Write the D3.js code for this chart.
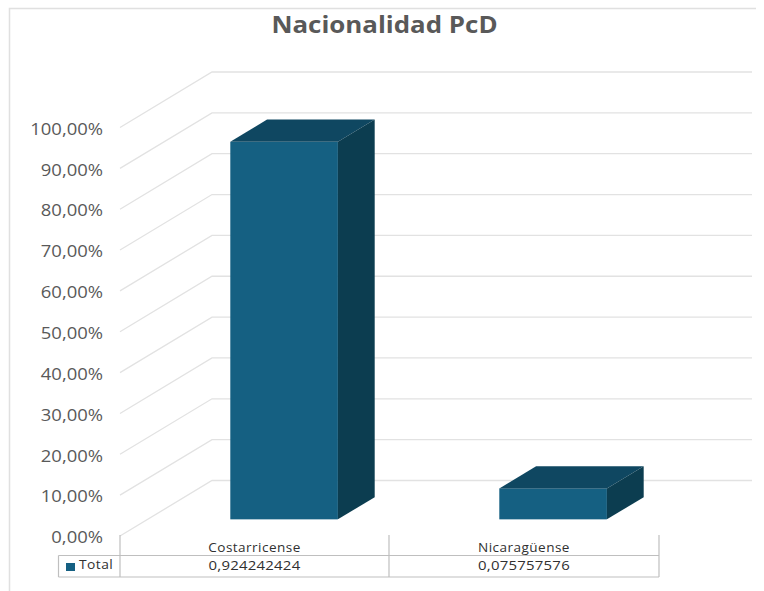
<!DOCTYPE html>
<html><head><meta charset="utf-8">
<script src="https://cdn.jsdelivr.net/npm/d3@7"></script>
<style>html,body{margin:0;padding:0;background:#fff}svg{display:block}text{font-family:"Open Sans",sans-serif}</style>
</head><body><svg id="c" width="764" height="591"></svg>
<script>
const categories = ["Costarricense","Nicaragüense"];
const values = [0.924242424,0.075757576];
const valueLabels = ["0,924242424","0,075757576"];
const tickValues = [0,0.1,0.2,0.3,0.4,0.5,0.6,0.7,0.8,0.9,1];
const seriesName = "Total";
const titleText = "Nacionalidad PcD";

const svg = d3.select("#c");
const x = d3.scaleBand().domain(categories).range([121,659]).paddingInner(0.6).paddingOuter(0.3);
const y = d3.scaleLinear().domain([0,1]).range([536,127.5]);
const depth = {x:92,y:-55.5};
const barNear = 0.30, barFar = 0.70;
const tx = d => d*depth.x, ty = d => d*depth.y;
const grid = "#e2e2e2";
function widen(sel,f){sel.each(function(){
  const w=this.getComputedTextLength();
  d3.select(this).attr("textLength",w*f).attr("lengthAdjust","spacingAndGlyphs");
});return sel;}

svg.append("path").attr("d","M9.5,591V8.5H756").attr("fill","none").attr("stroke","#e0e0e0").attr("stroke-width",1.5);

tickValues.forEach(t=>{
  svg.append("path").attr("fill","none").attr("stroke",grid).attr("stroke-width",1.3)
    .attr("d",`M120,${y(t)}L${120+depth.x},${y(t)+depth.y}H752`);
});

const axis = d3.axisLeft(y).tickValues(tickValues).tickSize(0).tickPadding(0)
  .tickFormat(t=>d3.format(".2f")(t*100).replace(".",",")+"%");
const ag = svg.append("g").attr("transform","translate(103,0)").call(axis);
ag.select(".domain").remove();
const tl = ag.selectAll("text").attr("fill","#595959").style("font-size","15.5px").style("font-family",'"Open Sans",sans-serif').attr("dy","0.34em")
  .attr("transform","translate(0,1.5)");
widen(tl,1.19);

categories.forEach((c,i)=>{
  const x0 = x(c)+tx(barNear)+1, x1 = x0+x.bandwidth();
  const base = y(0)+ty(barNear), top = y(values[i])+ty(barNear);
  const dx = tx(barFar-barNear), dy = ty(barFar-barNear);
  svg.append("rect").attr("x",x0).attr("y",top).attr("width",x1-x0).attr("height",base-top).attr("fill","#156082");
  svg.append("path").attr("fill","#0f4761").attr("d",`M${x0},${top}L${x0+dx},${top+dy}H${x1+dx}L${x1},${top}Z`);
  svg.append("path").attr("fill","#0c3d50").attr("d",`M${x1},${top}L${x1+dx},${top+dy}V${base+dy}L${x1},${base}Z`);
});

widen(svg.append("text").attr("x",384.5).attr("y",33).attr("text-anchor","middle")
  .attr("fill","#595959").style("font-size","22.5px").style("font-weight",700).text(titleText),1.15);

const tblColor="#bfbfbf", rowTop=555.5, rowBot=577, colTop=535;
const bounds=[120,389,659];
const t = svg.append("g").attr("fill","none").attr("stroke",tblColor).attr("stroke-width",1.2);
t.append("path").attr("d",`M58.5,${rowTop}H${bounds[2]}M58.5,${rowBot}H${bounds[2]}M58.5,${rowTop}V${rowBot}`);
bounds.forEach(b=>t.append("path").attr("d",`M${b},${colTop}V${rowBot}`));
categories.forEach((c,i)=>{
  const cx=(bounds[i]+bounds[i+1])/2;
  widen(svg.append("text").attr("x",cx).attr("y",552).attr("text-anchor","middle").attr("fill","#303030").style("font-size","12px").style("letter-spacing","0.4px").text(c),1.13);
  widen(svg.append("text").attr("x",cx).attr("y",570).attr("text-anchor","middle").attr("fill","#303030").style("font-size","13px").style("letter-spacing","0.2px").text(valueLabels[i]),1.15);
});
svg.append("rect").attr("x",66).attr("y",563).attr("width",9).attr("height",8).attr("fill","#156082");
widen(svg.append("text").attr("x",79).attr("y",569).attr("fill","#303030").style("font-size","12px").style("letter-spacing","0.4px").text(seriesName),1.15);
</script></body></html>
